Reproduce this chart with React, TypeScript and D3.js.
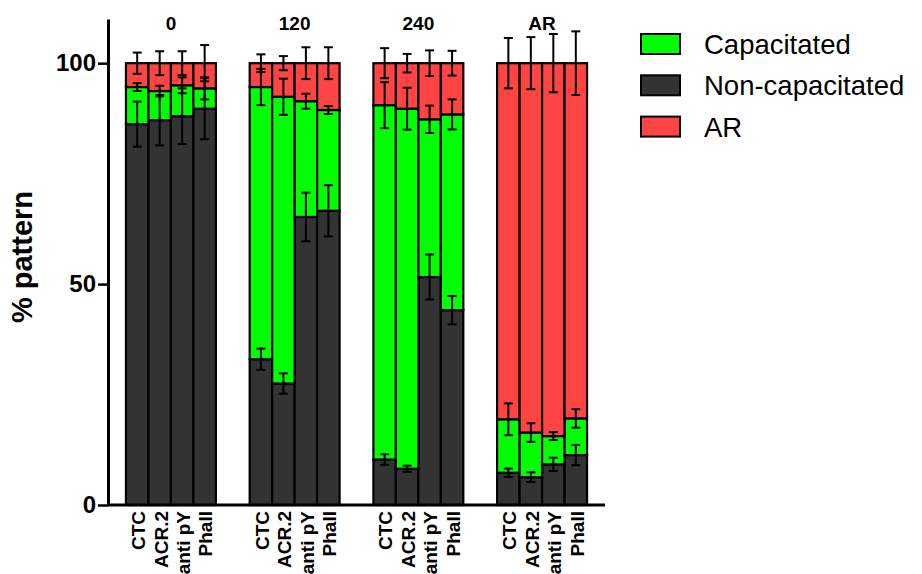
import React, { useEffect, useRef } from 'react';
import * as d3 from 'd3';

const groups = ['0', '120', '240', 'AR'];
const methods = ['CTC', 'ACR.2', 'anti pY', 'Phall'];
const seriesNames = ['Non-capacitated', 'Capacitated', 'AR'];

// segment heights (%) per group, per method
const nonCap = [
  [86.2, 87.1, 88.0, 89.7],
  [33.0, 27.5, 65.2, 66.6],
  [10.3, 8.2, 51.6, 44.1],
  [7.3, 6.3, 9.2, 11.3],
];
const capacitated = [
  [8.4, 6.6, 7.0, 4.6],
  [61.6, 64.9, 26.2, 22.8],
  [80.2, 81.5, 35.7, 44.3],
  [12.1, 10.1, 6.4, 8.3],
];
// error bars (SEM)
const nonCapErr = [
  [5.1, 5.7, 6.3, 6.9],
  [2.4, 2.3, 5.5, 5.8],
  [1.2, 0.7, 5.1, 3.2],
  [0.95, 1.1, 1.5, 2.3],
];
const capErr = [
  [0.9, 1.2, 1.8, 2.5],
  [4.1, 4.1, 1.7, 0.9],
  [5.2, 4.75, 3.1, 3.4],
  [3.6, 2.1, 0.9, 2.1],
];
const arErr = [
  [2.4, 2.7, 2.7, 4.1],
  [2.0, 1.6, 3.6, 3.6],
  [3.4, 2.1, 2.9, 2.8],
  [5.7, 5.9, 6.6, 7.2],
];
const yTicks = [0, 50, 100];

const colors: Record<string, string> = {
  'Non-capacitated': '#333333',
  Capacitated: '#00ff00',
  AR: '#ff4444',
};
const legendOrder = ['Capacitated', 'Non-capacitated', 'AR'];
const font = "Arial, 'Liberation Sans', sans-serif";

const App = () => {
  const ref = useRef<SVGSVGElement>(null);

  useEffect(() => {
    const svg = d3.select(ref.current);
    svg.selectAll('*').remove();

    const rows: any[] = [];
    groups.forEach((g, gi) =>
      methods.forEach((m, mi) => {
        const nc = nonCap[gi][mi];
        const cp = capacitated[gi][mi];
        rows.push({
          group: g,
          method: m,
          'Non-capacitated': nc,
          Capacitated: cp,
          AR: 100 - nc - cp,
          errs: [nonCapErr[gi][mi], capErr[gi][mi], arErr[gi][mi]],
        });
      })
    );

    const x0 = d3.scaleBand().domain(groups).range([109, 604]).paddingInner(0.273).paddingOuter(0.137);
    const x1 = d3.scaleBand().domain(methods).range([0, x0.bandwidth()]);
    const y = d3.scaleLinear().domain([0, 110]).range([505, 19]);

    const stacked = d3.stack().keys(seriesNames)(rows);

    const barX = (d: any) => (x0(d.data.group) as number) + (x1(d.data.method) as number);

    svg
      .append('g')
      .selectAll('g')
      .data(stacked)
      .join('g')
      .attr('fill', (s: any) => colors[s.key])
      .selectAll('rect')
      .data((s: any) => s)
      .join('rect')
      .attr('x', barX)
      .attr('width', x1.bandwidth())
      .attr('y', (d: any) => y(d[1]))
      .attr('height', (d: any) => y(d[0]) - y(d[1]))
      .attr('stroke', '#000')
      .attr('stroke-width', 2.2);

    // error bars at top of each segment
    const eb = svg.append('g').attr('stroke', '#000').attr('stroke-width', 2);
    stacked.forEach((s: any, si: number) => {
      s.forEach((d: any) => {
        const cx = barX(d) + x1.bandwidth() / 2;
        const e = d.data.errs[si];
        const top = y(d[1] + e);
        const bot = y(d[1] - e);
        eb.append('line').attr('x1', cx).attr('x2', cx).attr('y1', top).attr('y2', bot);
        eb.append('line').attr('x1', cx - 4.5).attr('x2', cx + 4.5).attr('y1', top).attr('y2', top);
        eb.append('line').attr('x1', cx - 4.5).attr('x2', cx + 4.5).attr('y1', bot).attr('y2', bot);
      });
    });

    // y axis
    const yAxis = svg
      .append('g')
      .attr('transform', 'translate(108,0)')
      .call(d3.axisLeft(y).tickValues(yTicks).tickSize(10).tickSizeOuter(0).tickPadding(2));
    yAxis.select('.domain').attr('stroke-width', 3);
    yAxis.selectAll('.tick line').attr('stroke-width', 2.5);
    yAxis
      .selectAll('.tick text')
      .attr('font-family', font)
      .attr('font-weight', 'bold')
      .attr('font-size', 24)
      .attr('fill', '#000');

    // x axis baseline
    svg
      .append('line')
      .attr('x1', 107)
      .attr('x2', 605)
      .attr('y1', y(0))
      .attr('y2', y(0))
      .attr('stroke', '#000')
      .attr('stroke-width', 3);

    // category labels
    const lab = svg.append('g');
    groups.forEach((g) =>
      methods.forEach((m) => {
        const cx = (x0(g) as number) + (x1(m) as number) + x1.bandwidth() / 2 + 1;
        lab
          .append('text')
          .attr('transform', `translate(${cx},511) rotate(-90)`)
          .attr('text-anchor', 'end')
          .attr('dy', '0.36em')
          .attr('font-family', font)
          .attr('font-weight', 'bold')
          .attr('font-size', 19)
          .text(m);
      })
    );

    // group titles
    svg
      .append('g')
      .selectAll('text')
      .data(groups)
      .join('text')
      .attr('x', (g) => (x0(g) as number) + x0.bandwidth() / 2)
      .attr('y', 30)
      .attr('text-anchor', 'middle')
      .attr('font-family', font)
      .attr('font-weight', 'bold')
      .attr('font-size', 19)
      .text((g) => g);

    // y label
    svg
      .append('text')
      .attr('transform', 'translate(32,257) rotate(-90)')
      .attr('text-anchor', 'middle')
      .attr('font-family', font)
      .attr('font-weight', 'bold')
      .attr('font-size', 29)
      .text('% pattern');

    // legend
    const lg = svg
      .append('g')
      .selectAll('g')
      .data(legendOrder)
      .join('g')
      .attr('transform', (_d, i) => `translate(641,${34 + i * 41.3})`);
    lg.append('rect')
      .attr('width', 39)
      .attr('height', 20)
      .attr('fill', (d) => colors[d])
      .attr('stroke', '#000')
      .attr('stroke-width', 2);
    lg.append('text')
      .attr('x', 63)
      .attr('y', 20)
      .attr('font-family', font)
      .attr('font-size', 27.5)
      .attr('fill', '#000')
      .text((d) => d);
  }, []);

  return (
    <svg
      ref={ref}
      width={922}
      height={574}
      style={{ position: 'absolute', left: 0, top: 0, background: '#fff' }}
    />
  );
};

export default App;
